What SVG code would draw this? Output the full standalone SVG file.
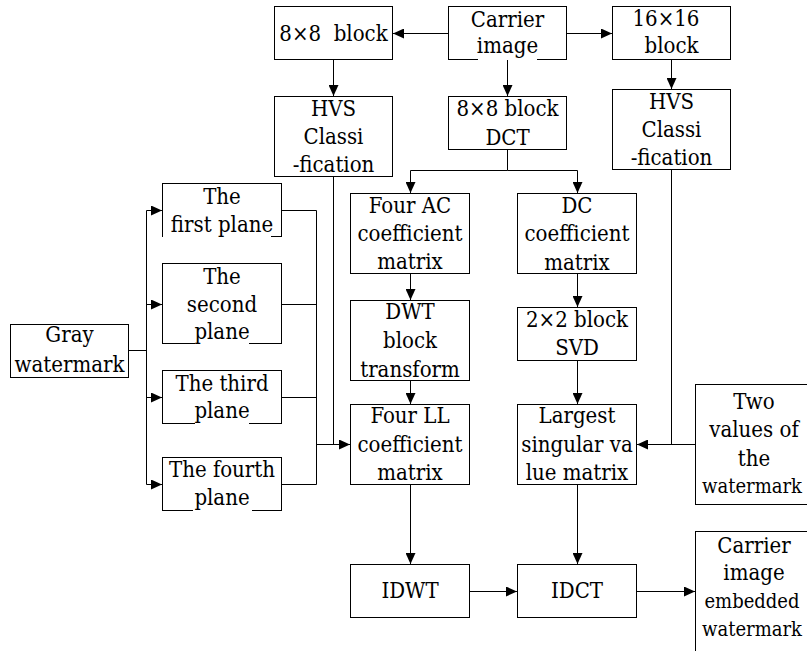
<svg xmlns="http://www.w3.org/2000/svg" width="807" height="651" viewBox="0 0 807 651">
<defs>
<style>
.box{fill:#fff;stroke:#000;stroke-width:1}
.bg{fill:#fff;stroke:none}
text{font-family:"DejaVu Serif Condensed","DejaVu Serif",serif;font-stretch:condensed;font-size:22px;fill:#000;text-anchor:middle}
.s{font-size:20px}
.c{fill:none;stroke:#000;stroke-width:1}
.a{marker-end:url(#ah)}
</style>
<marker id="ah" viewBox="0 0 11 10" refX="11" refY="5" markerWidth="11" markerHeight="10" markerUnits="userSpaceOnUse" orient="auto"><path d="M0,0 L11,5 L0,10 z" fill="#000"/></marker>
</defs>
<rect width="807" height="651" fill="#fff"/>
<g id="connectors">
<path class="c a" d="M448.5 33.5 H393"/>
<path class="c a" d="M566.5 33.5 H612"/>
<path class="c a" d="M507.5 59.5 V96"/>
<path class="c a" d="M333.5 59.5 V96"/>
<path class="c a" d="M671.5 59.5 V89"/>
<path class="c a" d="M507.5 149.5 V170.5 H410.5 V193"/>
<path class="c a" d="M507.5 170.5 H577.5 V193"/>
<path class="c a" d="M410.5 273.5 V300"/>
<path class="c a" d="M410.5 380.5 V404"/>
<path class="c a" d="M577.5 273.5 V307"/>
<path class="c a" d="M577.5 360.5 V404"/>
<path class="c" d="M128.5 350.5 H146.5 M146.5 210.5 V484.5"/>
<path class="c a" d="M146.5 210.5 H162"/>
<path class="c a" d="M146.5 304.5 H162"/>
<path class="c a" d="M146.5 397.5 H162"/>
<path class="c a" d="M146.5 484.5 H162"/>
<path class="c" d="M281.5 210.5 H316.5 M281.5 304.5 H316.5 M281.5 397.5 H316.5 M281.5 484.5 H316.5 M316.5 210.5 V484.5"/>
<path class="c" d="M333.5 176.5 V444.5"/>
<path class="c a" d="M316.5 444.5 H350"/>
<path class="c" d="M671.5 169.5 V444.5"/>
<path class="c a" d="M695.5 444.5 H637"/>
<path class="c a" d="M410.5 484.5 V564"/>
<path class="c a" d="M577.5 484.5 V564"/>
<path class="c a" d="M469.5 591.5 H517"/>
<path class="c a" d="M636.5 591.5 H695"/>
</g>
<g id="block8">
<rect class="box" x="274.5" y="6.5" width="118" height="53"/>
<text x="333.5" y="41" xml:space="preserve">8×8  block</text>
</g>
<g id="carrier">
<rect class="box" x="448.5" y="6.5" width="118" height="53"/>
<rect class="bg" x="478" y="36" width="59" height="24"/>
<text x="507.5" y="27">Carrier</text>
<text x="507.5" y="53">image</text>
</g>
<g id="block16">
<rect class="box" x="612.5" y="6.5" width="118" height="53"/>
<text x="666" y="26">16×16</text>
<text x="671.5" y="53">block</text>
</g>
<g id="hvsL">
<rect class="box" x="274.5" y="96.5" width="118" height="80"/>
<text x="333.5" y="116">HVS</text>
<text x="333.5" y="144">Classi</text>
<text x="333.5" y="172">-fication</text>
</g>
<g id="dct">
<rect class="box" x="448.5" y="96.5" width="118" height="53"/>
<text x="507.5" y="116">8×8 block</text>
<text x="507.5" y="145">DCT</text>
</g>
<g id="hvsR">
<rect class="box" x="612.5" y="89.5" width="118" height="80"/>
<text x="671.5" y="109">HVS</text>
<text x="671.5" y="137">Classi</text>
<text x="671.5" y="165">-fication</text>
</g>
<g id="gray">
<rect class="box" x="10.5" y="324.5" width="118" height="53"/>
<text x="69.5" y="341.5">Gray</text>
<text x="69.5" y="372">watermark</text>
</g>
<g id="plane1">
<rect class="box" x="162.5" y="183.5" width="119" height="53"/>
<rect class="bg" x="163" y="213" width="108" height="24"/>
<text x="222" y="204">The</text>
<text x="222" y="231.5">first plane</text>
</g>
<g id="plane2">
<rect class="box" x="162.5" y="263.5" width="119" height="80"/>
<rect class="bg" x="195" y="321" width="54" height="23"/>
<text x="222" y="284">The</text>
<text x="222" y="311.5">second</text>
<text x="222" y="339">plane</text>
</g>
<g id="plane3">
<rect class="box" x="162.5" y="370.5" width="119" height="53"/>
<rect class="bg" x="195" y="401" width="54" height="23"/>
<text x="222" y="390.5">The third</text>
<text x="222" y="418">plane</text>
</g>
<g id="plane4">
<rect class="box" x="162.5" y="457.5" width="119" height="53"/>
<rect class="bg" x="193" y="488" width="59" height="23"/>
<text x="222" y="477">The fourth</text>
<text x="222" y="505">plane</text>
</g>
<g id="ac">
<rect class="box" x="350.5" y="193.5" width="119" height="80"/>
<text x="410" y="213">Four AC</text>
<text x="410" y="241">coefficient</text>
<text x="410" y="269">matrix</text>
</g>
<g id="dc">
<rect class="box" x="517.5" y="193.5" width="119" height="80"/>
<text x="577" y="213">DC</text>
<text x="577" y="241">coefficient</text>
<text x="577" y="270">matrix</text>
</g>
<g id="dwt">
<rect class="box" x="350.5" y="300.5" width="119" height="80"/>
<text x="410" y="319">DWT</text>
<text x="410" y="348">block</text>
<text x="410" y="376.5">transform</text>
</g>
<g id="svd">
<rect class="box" x="517.5" y="307.5" width="119" height="53"/>
<text x="577" y="327">2×2 block</text>
<text x="577" y="355">SVD</text>
</g>
<g id="ll">
<rect class="box" x="350.5" y="404.5" width="119" height="80"/>
<text x="410" y="423">Four LL</text>
<text x="410" y="451.5">coefficient</text>
<text x="410" y="480">matrix</text>
</g>
<g id="largest">
<rect class="box" x="517.5" y="404.5" width="119" height="80"/>
<text x="577" y="423">Largest</text>
<text x="577" y="451.5">singular va</text>
<text x="577" y="480">lue matrix</text>
</g>
<g id="two">
<rect class="box" x="695.5" y="384.5" width="120" height="120"/>
<text x="754" y="409">Two</text>
<text x="754" y="436.5">values of</text>
<text x="754" y="466">the</text>
<text class="s" x="752" y="493">watermark</text>
</g>
<g id="idwt">
<rect class="box" x="350.5" y="564.5" width="119" height="53"/>
<text x="410" y="598">IDWT</text>
</g>
<g id="idct">
<rect class="box" x="517.5" y="564.5" width="119" height="53"/>
<text x="577" y="598">IDCT</text>
</g>
<g id="embedded">
<rect class="box" x="695.5" y="531.5" width="120" height="130"/>
<text x="754" y="552.5">Carrier</text>
<text x="754" y="580">image</text>
<text class="s" x="752" y="607.5">embedded</text>
<text class="s" x="752" y="636">watermark</text>
</g>
</svg>
